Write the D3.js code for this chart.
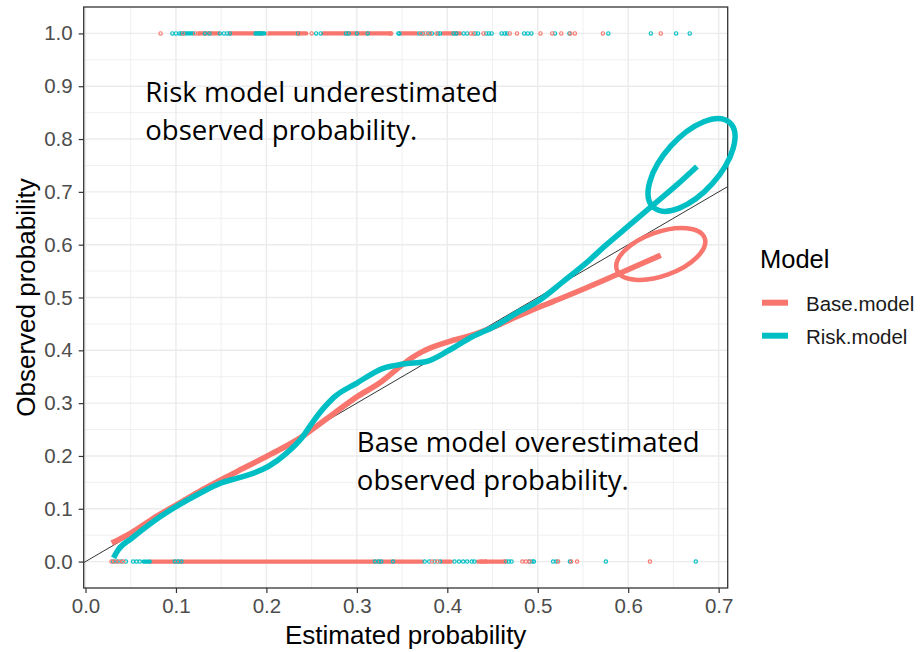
<!DOCTYPE html>
<html>
<head>
<meta charset="utf-8">
<script src="https://cdn.jsdelivr.net/npm/d3@7"></script>
<style>
  body { margin: 0; background: #fff; }
  svg { display: block; }
  .tick text { font-family: "Liberation Sans", Arial, sans-serif; font-size: 20.5px; fill: #4d4d4d; }
  .tick line { stroke: #333; stroke-width: 1.2; }
</style>
</head>
<body>
<div id="chart"></div>
<script>
// ---- data ----
var models = ["Base.model", "Risk.model"];
var colors = ["#F8766D", "#00BFC4"];

var xTicks = [0.0, 0.1, 0.2, 0.3, 0.4, 0.5, 0.6, 0.7];
var yTicks = [0.0, 0.1, 0.2, 0.3, 0.4, 0.5, 0.6, 0.7, 0.8, 0.9, 1.0];
var xMinor = [0.05, 0.15, 0.25, 0.35, 0.45, 0.55, 0.65];
var yMinor = [0.05, 0.15, 0.25, 0.35, 0.45, 0.55, 0.65, 0.75, 0.85, 0.95];

// calibration curves
var baseX = [0.029,0.051,0.075,0.1,0.125,0.15,0.175,0.2,0.22,0.24,0.252,0.275,0.3,0.325,0.344,0.36,0.373,0.401,0.428,0.452,0.476,0.502,0.528,0.552,0.587,0.612,0.636];
var baseY = [0.035,0.055,0.082,0.107,0.132,0.155,0.177,0.199,0.217,0.237,0.252,0.281,0.312,0.338,0.364,0.385,0.398,0.416,0.429,0.445,0.463,0.482,0.5,0.517,0.543,0.562,0.58];
var riskX = [0.031,0.036,0.051,0.075,0.1,0.125,0.15,0.168,0.185,0.202,0.222,0.239,0.252,0.263,0.274,0.3,0.329,0.351,0.377,0.401,0.428,0.452,0.476,0.502,0.528,0.552,0.576,0.6,0.631,0.655,0.676];
var riskY = [0.007,0.022,0.044,0.076,0.104,0.128,0.149,0.158,0.167,0.18,0.205,0.234,0.266,0.29,0.31,0.338,0.366,0.374,0.379,0.399,0.426,0.445,0.47,0.495,0.53,0.563,0.6,0.635,0.68,0.715,0.748];

// observed outcomes (rug at 0 and 1): dense stretches where circles merge, and single circles
var baseTopBands = [[0.126,0.147],[0.1595,0.196],[0.204,0.244],[0.263,0.336],[0.349,0.366],[0.395,0.414]];
var riskTopBands = [[0.106,0.119],[0.189,0.198]];
var baseTopPts = [0.083,0.108,0.121,0.1245,0.202,0.236,0.25,0.337,0.338,0.371,0.376,0.381,0.388,0.426,0.429,0.44,0.469,0.477,0.503,0.516,0.526,0.536,0.541,0.572,0.636];
var riskTopPts = [0.096,0.100,0.104,0.132,0.137,0.1485,0.153,0.1566,0.1595,0.188,0.193,0.235,0.255,0.26,0.288,0.291,0.300,0.312,0.346,0.347,0.369,0.373,0.379,0.383,0.39,0.392,0.407,0.41,0.418,0.422,0.431,0.434,0.443,0.446,0.449,0.46,0.4636,0.466,0.485,0.489,0.493,0.519,0.535,0.578,0.625,0.653,0.668];

var baseBotBands = [[0.071,0.372],[0.394,0.404],[0.434,0.463]];
var riskBotBands = [[0.064,0.071]];
var baseBotPts = [0.0287,0.0324,0.0371,0.0416,0.383,0.389,0.438,0.442,0.4636,0.483,0.487,0.491,0.5225,0.537,0.5435,0.624];
var riskBotPts = [0.0305,0.035,0.0398,0.0446,0.0526,0.0564,0.060,0.0987,0.1024,0.106,0.32,0.324,0.327,0.340,0.375,0.380,0.386,0.392,0.408,0.413,0.4175,0.422,0.427,0.430,0.465,0.468,0.471,0.4905,0.494,0.4957,0.517,0.5207,0.5355,0.5753,0.6747];

// hand-drawn notes
var noteLines = [["Risk model underestimated", "observed probability."],
                 ["Base model overestimated", "observed probability."]];
var noteAt = [[0.066, 0.871], [0.300, 0.208]];
var circleAt = [[0.636, 0.5825], [0.670, 0.751]];   // red, teal

// ---- layout ----
var width = 923, height = 652;
var margin = {top: 7, right: 195.3, bottom: 64, left: 83.7};

var svg = d3.select("#chart").append("svg")
  .attr("width", width)
  .attr("height", height);

var x = d3.scaleLinear().domain([-0.002, 0.71]).range([margin.left, width - margin.right]);
var y = d3.scaleLinear().domain([-0.05, 1.05]).range([height - margin.bottom, margin.top]);

svg.append("defs").append("clipPath").attr("id", "panel")
  .append("rect")
  .attr("x", x.range()[0]).attr("y", y.range()[1])
  .attr("width", x.range()[1] - x.range()[0])
  .attr("height", y.range()[0] - y.range()[1]);

// grid
var grid = svg.append("g");
grid.selectAll(".vmin").data(xMinor).enter().append("line")
  .attr("x1", d => x(d)).attr("x2", d => x(d))
  .attr("y1", y.range()[1]).attr("y2", y.range()[0])
  .attr("stroke", "#f0f0f0").attr("stroke-width", 1);
grid.selectAll(".hmin").data(yMinor).enter().append("line")
  .attr("y1", d => y(d)).attr("y2", d => y(d))
  .attr("x1", x.range()[0]).attr("x2", x.range()[1])
  .attr("stroke", "#f0f0f0").attr("stroke-width", 1);
grid.selectAll(".vmaj").data(xTicks).enter().append("line")
  .attr("x1", d => x(d)).attr("x2", d => x(d))
  .attr("y1", y.range()[1]).attr("y2", y.range()[0])
  .attr("stroke", "#ebebeb").attr("stroke-width", 1.4);
grid.selectAll(".hmaj").data(yTicks).enter().append("line")
  .attr("y1", d => y(d)).attr("y2", d => y(d))
  .attr("x1", x.range()[0]).attr("x2", x.range()[1])
  .attr("stroke", "#ebebeb").attr("stroke-width", 1.4);

// identity line
svg.append("line")
  .attr("clip-path", "url(#panel)")
  .attr("x1", x(-0.05)).attr("y1", y(-0.05))
  .attr("x2", x(0.75)).attr("y2", y(0.75))
  .attr("stroke", "#000").attr("stroke-width", 0.8);

// rugs
var rug = svg.append("g");
function bands(list, yv, col) {
  rug.selectAll(null).data(list).enter().append("line")
    .attr("x1", d => x(d[0])).attr("x2", d => x(d[1]))
    .attr("y1", y(yv)).attr("y2", y(yv))
    .attr("stroke", col).attr("stroke-width", 4.4)
    .attr("stroke-linecap", "round");
}
function pts(list, yv, col) {
  rug.selectAll(null).data(list).enter().append("circle")
    .attr("cx", d => x(d)).attr("cy", y(yv)).attr("r", 1.7)
    .attr("fill", "none").attr("stroke", col).attr("stroke-width", 1.1);
}
bands(baseTopBands, 1, colors[0]);
bands(baseBotBands, 0, colors[0]);
bands(riskTopBands, 1, colors[1]);
bands(riskBotBands, 0, colors[1]);
pts(riskTopPts, 1, colors[1]);
pts(riskBotPts, 0, colors[1]);
pts(baseTopPts, 1, colors[0]);
pts(baseBotPts, 0, colors[0]);

// curves
var line = d3.line().x(d => x(d[0])).y(d => y(d[1])).curve(d3.curveMonotoneX);
var curves = [d3.zip(baseX, baseY), d3.zip(riskX, riskY)];
svg.selectAll(".curve").data(curves).enter().append("path")
  .attr("class", "curve")
  .attr("d", line)
  .attr("fill", "none")
  .attr("stroke", (d, i) => colors[i])
  .attr("stroke-width", 5.6);

// panel border
svg.append("rect")
  .attr("x", x.range()[0]).attr("y", y.range()[1])
  .attr("width", x.range()[1] - x.range()[0])
  .attr("height", y.range()[0] - y.range()[1])
  .attr("fill", "none").attr("stroke", "#333").attr("stroke-width", 1.3);

// axes
var xAxis = svg.append("g")
  .attr("transform", "translate(0," + y.range()[0] + ")")
  .call(d3.axisBottom(x).tickValues(xTicks).tickFormat(d3.format(".1f")).tickSize(5).tickPadding(5));
var yAxis = svg.append("g")
  .attr("transform", "translate(" + x.range()[0] + ",0)")
  .call(d3.axisLeft(y).tickValues(yTicks).tickFormat(d3.format(".1f")).tickSize(5).tickPadding(6));
xAxis.select(".domain").remove();
yAxis.select(".domain").remove();

// axis titles
svg.append("text")
  .attr("x", (x.range()[0] + x.range()[1]) / 2).attr("y", 644)
  .attr("text-anchor", "middle")
  .attr("font-family", "Liberation Sans, Arial, sans-serif")
  .attr("font-size", 26).attr("fill", "#000")
  .text("Estimated probability");
svg.append("text")
  .attr("transform", "translate(35," + (y.range()[0] + y.range()[1]) / 2 + ") rotate(-90)")
  .attr("text-anchor", "middle")
  .attr("font-family", "Liberation Sans, Arial, sans-serif")
  .attr("font-size", 26).attr("fill", "#000")
  .text("Observed probability");

// legend
var legend = svg.append("g").attr("transform", "translate(760,0)");
legend.append("text")
  .attr("x", 0).attr("y", 268)
  .attr("font-family", "Liberation Sans, Arial, sans-serif")
  .attr("font-size", 25.5).attr("fill", "#000")
  .text("Model");
var rows = legend.selectAll(".row").data(models).enter().append("g")
  .attr("transform", (d, i) => "translate(0," + (302.7 + i * 33) + ")");
rows.append("line")
  .attr("x1", 2).attr("x2", 28).attr("y1", 0).attr("y2", 0)
  .attr("stroke", (d, i) => colors[i]).attr("stroke-width", 6);
rows.append("text")
  .attr("x", 46).attr("y", 8.5)
  .attr("font-family", "Liberation Sans, Arial, sans-serif")
  .attr("font-size", 20.5).attr("fill", "#1a1a1a")
  .text(d => d);

// notes
var notes = svg.append("g")
  .attr("font-family", "Open Sans, sans-serif").attr("font-size", 26).attr("fill", "#000");
noteLines.forEach(function(lines, k) {
  var t = notes.append("text")
    .attr("x", x(noteAt[k][0])).attr("y", y(noteAt[k][1]));
  lines.forEach(function(s, j) {
    t.append("tspan").attr("x", x(noteAt[k][0])).attr("dy", j === 0 ? 0 : 38.5).text(s);
  });
});
// fit note font so first line spans as in the picture
var w0 = notes.select("tspan").node().getComputedTextLength();
notes.attr("font-size", 26 * 353 / w0);

// ellipses round the ends of the curves
var rings = [{rx: 46.7, ry: 21.8, rot: -20, sw: 4.5}, {rx: 57, ry: 28, rot: -48, sw: 5.5}];
svg.selectAll(".ring").data(rings).enter().append("ellipse")
  .attr("cx", 0).attr("cy", 0)
  .attr("rx", d => d.rx).attr("ry", d => d.ry)
  .attr("transform", (d, i) => "translate(" + x(circleAt[i][0]) + "," + y(circleAt[i][1]) + ") rotate(" + d.rot + ")")
  .attr("fill", "none")
  .attr("stroke", (d, i) => colors[i])
  .attr("stroke-width", d => d.sw);
</script>
</body>
</html>
